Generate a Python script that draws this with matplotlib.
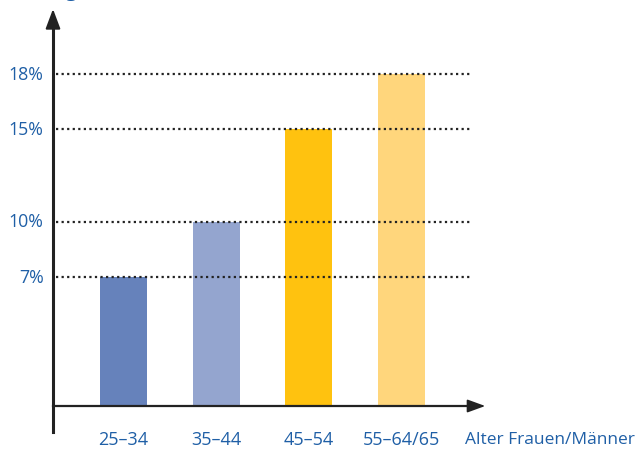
import matplotlib.pyplot as plt

categories = ['25–34', '35–44', '45–54', '55–64/65']
values = [7, 10, 15, 18]
colors = ['#6682BB', '#94A5CF', '#FFC20F', '#FFD67C']
ticks = [7, 10, 15, 18]
tick_labels = ['7%', '10%', '15%', '18%']

blue = '#1F5FA6'
plt.rcParams['font.family'] = ['Open Sans', 'DejaVu Sans']

fig = plt.figure(figsize=(6.38, 4.52), dpi=100)
W, H = 638, 452
# axes: x pixel 53..488, y pixel 407 (0%) .. 10 (top)
ax = fig.add_axes([53 / W, (H - 407) / H, (488 - 53) / W, (407 - 10) / H])
step = 92.67
ax.set_xlim((53 - 123.5) / step, (488 - 123.5) / step)
ax.set_ylim(0, (407 - 10) / 18.45)
ax.axis('off')

x = list(range(len(categories)))
ax.bar(x, values, width=0.51, color=colors, zorder=2)

x0, x1 = ax.get_xlim()
ytop = ax.get_ylim()[1]
for t, lab in zip(ticks, tick_labels):
    ax.plot([x0 + 0.03, (470 - 123.5) / step], [t, t], color='#222222',
            lw=1.6, linestyle=(0, (1, 1.5)), zorder=3)
    ax.text(x0 - 0.1, t, lab, ha='right', va='center', color=blue, fontsize=12.8)

# y axis with arrow
ax.plot([x0, x0], [-1.4, ytop - 1.0], color='#222222', lw=2.2, clip_on=False, zorder=4)
ax.annotate('', xy=(x0, ytop + 0.15), xytext=(x0, ytop - 1.1),
            arrowprops=dict(arrowstyle='-|>,head_length=1.2,head_width=0.45',
                            color='#222222', lw=1.5), annotation_clip=False)
# x axis with arrow
ax.plot([x0, x1 - 0.15], [0, 0], color='#222222', lw=1.6, clip_on=False, zorder=4)
ax.annotate('', xy=(x1, 0), xytext=(x1 - 0.2, 0),
            arrowprops=dict(arrowstyle='-|>,head_length=1.1,head_width=0.4',
                            color='#222222', lw=1.2), annotation_clip=False)

for xi, c in zip(x, categories):
    ax.text(xi, -1.8, c, ha='center', va='center', color=blue, fontsize=13)
fig.text(465 / W, 1 - 440 / H, 'Alter Frauen/Männer', ha='left', va='center',
         color=blue, fontsize=12.5)
# title fragment cut at the top edge, as in the reference
fig.text(66 / W, 1 + 3 / H, 'g', ha='left', va='baseline', color=blue, fontsize=14)

fig.savefig('out.png', dpi=100)
